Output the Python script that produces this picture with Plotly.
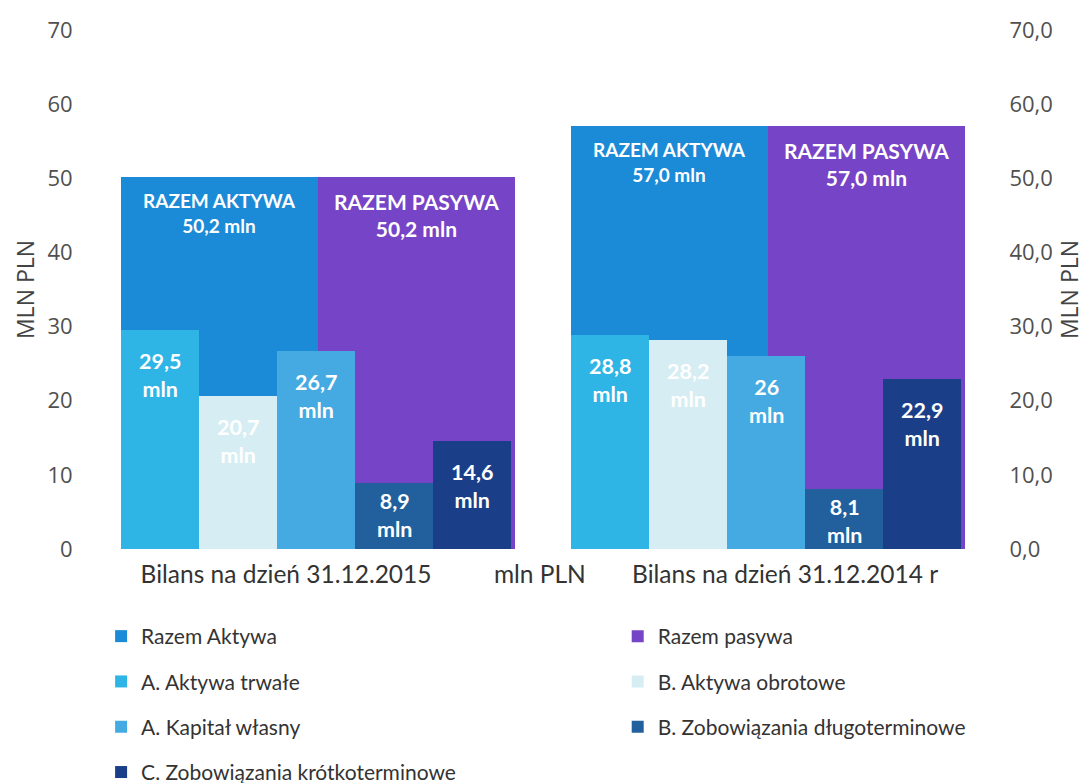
import plotly.graph_objects as go

categories = ["Bilans na dzień 31.12.2015", "Bilans na dzień 31.12.2014 r"]
unit_label = "mln PLN"
razem_aktywa = [50.2, 57.0]
razem_pasywa = [50.2, 57.0]
aktywa_trwale = [29.5, 28.8]
aktywa_obrotowe = [20.7, 28.2]
kapital_wlasny = [26.7, 26.0]
zob_dlugo = [8.9, 8.1]
zob_krotko = [14.6, 22.9]
y_ticks = [0, 10, 20, 30, 40, 50, 60, 70]

FONT = "Lato"
NUMFONT = "Open Sans"

# figure geometry (page body adds an 8px offset, so figure is 8px smaller)
W, H = 1079, 775
ML, MR, MT, MB = 85, 94, 22, 234
unit_px = (W - ML - MR) / 2.0  # px per category on the x axis


def fmt1(v):
    return f"{v:.1f}".replace(".", ",")


def fmtg(v):
    return f"{v:g}".replace(".", ",")


fig = go.Figure()
annotations = []

big_w = 0.438
big = [
    ("Razem Aktywa", "RAZEM AKTYWA", razem_aktywa, "#1B8BD8", "legend", -big_w, 19),
    ("Razem pasywa", "RAZEM PASYWA", razem_pasywa, "#7644C6", "legend2", 0.0, 21),
]
for name, title, vals, col, lg, off, fs in big:
    fig.add_trace(go.Bar(
        x=categories, y=vals, name=name, offset=off, width=big_w,
        marker=dict(color=col, line=dict(width=0)),
        legend=lg, legendgroup=name, legendrank=1, hoverinfo="x+y+name",
    ))
    for c, v in zip(categories, vals):
        annotations.append(dict(
            x=c, y=v, xref="x", yref="y", yanchor="top", xanchor="center",
            xshift=(off + big_w / 2) * unit_px, yshift=-10, showarrow=False,
            text=f"{title}<br>{fmt1(v)} mln",
            font=dict(family=FONT, size=fs, color="white", weight="bold"),
        ))

small = [
    ("A. Aktywa trwałe", aktywa_trwale, "#2FB4E6", "legend", 2),
    ("B. Aktywa obrotowe", aktywa_obrotowe, "#D6EEF3", "legend2", 2),
    ("A. Kapitał własny", kapital_wlasny, "#45AAE2", "legend", 3),
    ("B. Zobowiązania długoterminowe", zob_dlugo, "#21609C", "legend2", 3),
    ("C. Zobowiązania krótkoterminowe", zob_krotko, "#1A3F88", "legend", 4),
]
sw = 0.1735
for i, (name, vals, col, lg, rk) in enumerate(small):
    off = -big_w + i * sw
    fig.add_trace(go.Bar(
        x=categories, y=vals, name=name, offset=off, width=sw,
        marker=dict(color=col, line=dict(width=0)),
        legend=lg, legendgroup=name, legendrank=rk, hoverinfo="x+y+name",
    ))
    for c, v in zip(categories, vals):
        annotations.append(dict(
            x=c, y=v, xref="x", yref="y", yanchor="top", xanchor="center",
            xshift=(off + sw / 2) * unit_px, yshift=-16 if v > 12 else -3,
            showarrow=False, text=f"{fmtg(v)}<br>mln",
            font=dict(family=FONT, size=21.5, color="white", weight="bold"),
        ))

# helper trace for the right axis
fig.add_trace(go.Scatter(x=[], y=[], yaxis="y2", showlegend=False))

legend_common = dict(
    orientation="v", yanchor="top", xanchor="left", yref="container",
    font=dict(family=FONT, size=21, color="#333333"),
    tracegroupgap=15, bgcolor="rgba(0,0,0,0)", itemclick=False,
)

fig.update_layout(
    width=W, height=H,
    margin=dict(l=ML, r=MR, t=MT, b=MB, autoexpand=False),
    paper_bgcolor="white", plot_bgcolor="white",
    barmode="overlay", bargap=0,
    separators=", ",
    showlegend=True,
    annotations=annotations,
    legend=dict(x=0.009, y=0.2155, **legend_common),
    legend2=dict(x=0.583, y=0.2155, **legend_common),
    xaxis=dict(
        type="category", categoryorder="array", categoryarray=categories,
        range=[-0.5, 1.5], showgrid=False, zeroline=False,
        tickmode="array", tickvals=[-0.071, 0.493, 1.038],
        ticktext=[categories[0], unit_label, categories[1]],
        showline=False, ticks="outside", ticklen=4, tickcolor="rgba(0,0,0,0)",
        tickfont=dict(family=FONT, size=24.5, color="#333333"), automargin=False,
    ),
    yaxis=dict(
        range=[0, 70], tickvals=y_ticks, showgrid=False, zeroline=False,
        showline=False, ticks="outside", ticklen=15, tickcolor="rgba(0,0,0,0)",
        tickfont=dict(family=NUMFONT, size=22, color="#505050"), automargin=False,
        title=dict(text="MLN PLN", font=dict(family=NUMFONT, size=23, color="#444444"), standoff=6),
    ),
    yaxis2=dict(
        range=[0, 70], tickvals=y_ticks, tickformat=".1f", overlaying="y", side="right",
        showgrid=False, zeroline=False, showline=False, automargin=False,
        ticks="outside", ticklen=11, tickcolor="rgba(0,0,0,0)",
        tickfont=dict(family=NUMFONT, size=22, color="#505050"),
        title=dict(text="MLN PLN", font=dict(family=NUMFONT, size=23, color="#444444"), standoff=10),
    ),
)

fig.write_html("out.html")
